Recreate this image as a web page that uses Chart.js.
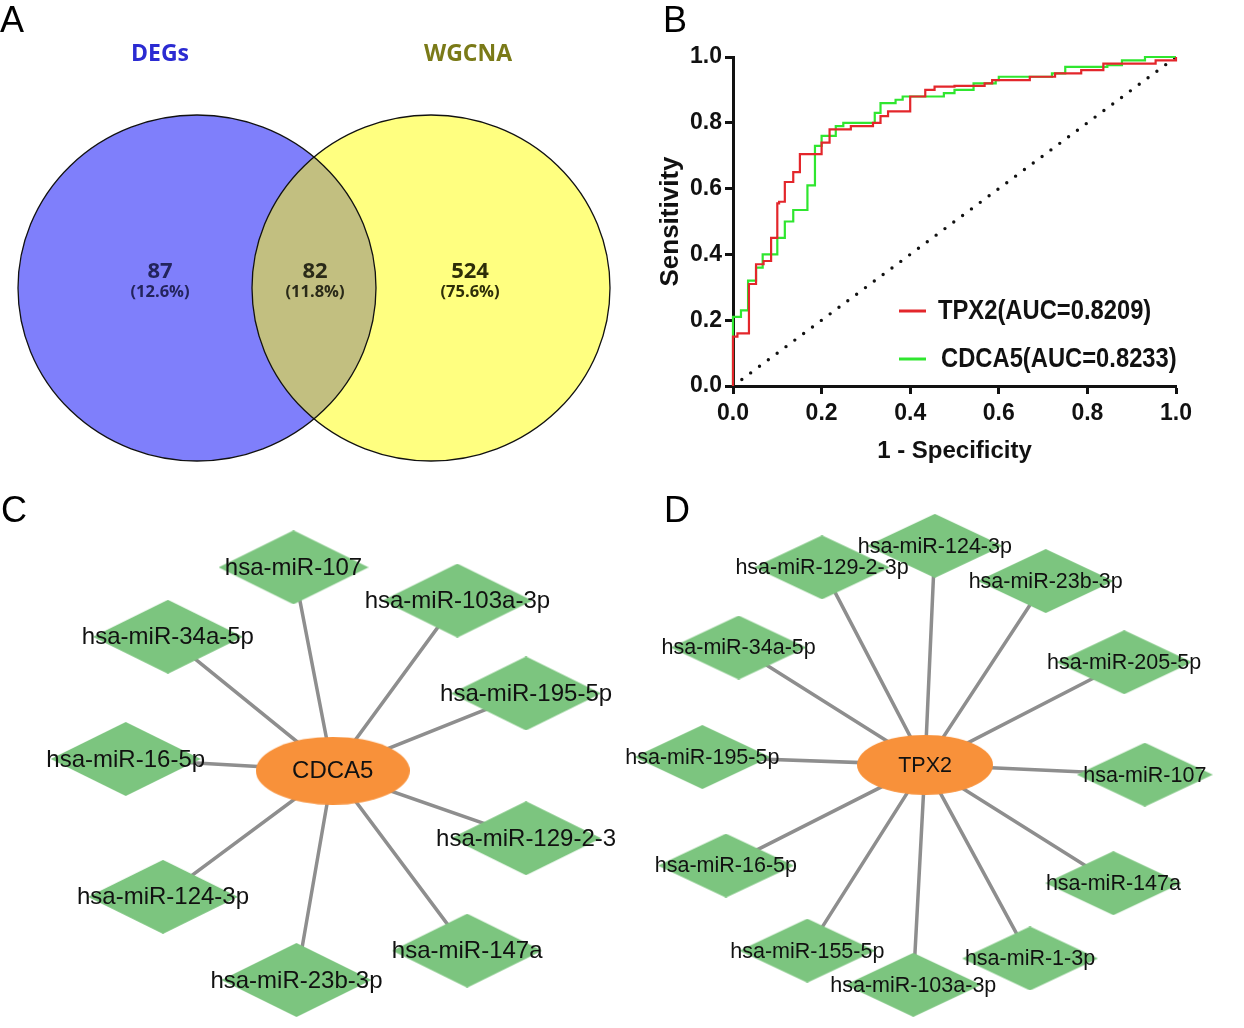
<!DOCTYPE html>
<html>
<head>
<meta charset="utf-8">
<script src="https://cdn.jsdelivr.net/npm/chart.js@4.4.1/dist/chart.umd.min.js"></script>
<style>
  body { margin: 0; background: #fff; }
  #fig { position: relative; width: 1244px; height: 1028px; overflow: hidden; }
  .box { position: absolute; }
  .tag { position: absolute; font: 36px "Liberation Sans", Arial, sans-serif; color: #000; line-height: 1; }
</style>
</head>
<body>
<div id="fig">
  <div class="box" style="left:0;top:0;width:640px;height:480px"><canvas id="vennChart"></canvas></div>
  <div class="box" style="left:640px;top:0;width:604px;height:480px"><canvas id="rocChart"></canvas></div>
  <div class="box" style="left:0;top:490px;width:640px;height:538px"><canvas id="cdca5Net"></canvas></div>
  <div class="box" style="left:610px;top:490px;width:634px;height:538px"><canvas id="tpx2Net"></canvas></div>
  <div class="tag" style="left:0px;top:2px">A</div>
  <div class="tag" style="left:663px;top:2px">B</div>
  <div class="tag" style="left:1px;top:492px">C</div>
  <div class="tag" style="left:664px;top:492px">D</div>
</div>
<script>
// ---- data ----
const vennSets = ['DEGs', 'WGCNA'];
const vennCounts = [87, 82, 524];   // DEGs only, both, WGCNA only

const tpx2Fpr = [0, 0, 0.01, 0.036, 0.052, 0.069, 0.086, 0.10, 0.104, 0.117, 0.136, 0.151, 0.20, 0.218, 0.266, 0.316, 0.333, 0.35, 0.40, 0.40, 0.434, 0.455, 0.50, 0.568, 0.585, 0.67, 0.727, 0.786, 0.836, 0.954, 1];
const tpx2Tpr = [0, 0.15, 0.16, 0.31, 0.37, 0.38, 0.45, 0.555, 0.56, 0.62, 0.65, 0.705, 0.74, 0.78, 0.79, 0.80, 0.82, 0.835, 0.85, 0.88, 0.90, 0.91, 0.912, 0.92, 0.93, 0.94, 0.95, 0.96, 0.98, 0.99, 1];
const cdca5Fpr = [0, 0, 0.018, 0.034, 0.052, 0.067, 0.10, 0.117, 0.136, 0.168, 0.185, 0.20, 0.232, 0.249, 0.32, 0.333, 0.367, 0.383, 0.476, 0.50, 0.543, 0.593, 0.60, 0.72, 0.75, 0.845, 0.878, 0.93, 1];
const cdca5Tpr = [0, 0.21, 0.23, 0.32, 0.36, 0.40, 0.45, 0.50, 0.535, 0.61, 0.73, 0.76, 0.79, 0.80, 0.83, 0.86, 0.87, 0.88, 0.89, 0.90, 0.92, 0.93, 0.94, 0.95, 0.97, 0.975, 0.99, 1.0, 1];
const rocNames = ['TPX2', 'CDCA5'];
const rocAuc = [0.8209, 0.8233];
const rocTicks = [0, 0.2, 0.4, 0.6, 0.8, 1.0];

const cdca5Targets = ['hsa-miR-107', 'hsa-miR-103a-3p', 'hsa-miR-34a-5p', 'hsa-miR-195-5p', 'hsa-miR-16-5p',
  'hsa-miR-129-2-3', 'hsa-miR-124-3p', 'hsa-miR-147a', 'hsa-miR-23b-3p'];
const tpx2Targets = ['hsa-miR-124-3p', 'hsa-miR-129-2-3p', 'hsa-miR-23b-3p', 'hsa-miR-34a-5p', 'hsa-miR-205-5p',
  'hsa-miR-195-5p', 'hsa-miR-107', 'hsa-miR-16-5p', 'hsa-miR-147a', 'hsa-miR-155-5p', 'hsa-miR-1-3p', 'hsa-miR-103a-3p'];

// network layout (offsets of each target from the hub)
const cdca5Layout = [[-40, -208], [127, -174], [-168, -137], [197, -79], [-211, -12], [197, 69], [-173, 129], [137, 184], [-37, 214]];
const tpx2Layout = [[10, -224], [-105, -202], [123, -188], [-190, -120], [203, -105], [-227, -8], [224, 10], [-203, 103], [192, 121], [-120, 190], [107, 198], [-12, 225]];

const ARIAL = '"Liberation Sans", Arial, sans-serif';
const OPEN = '"Open Sans", "Noto Sans", sans-serif';

// ---- A: Venn ----
const vennLayout = { centers: [[197, 288], [431, 288]], rx: 179, ry: 173, labelX: [160, 315, 470], numY: 272, pctY: 292, titleX: [160, 468], titleY: 54 };
const vennFill = ['#7f7ffb', '#ffff80'], vennBoth = '#c2bf80';
const vennTitleColor = ['#2b2bd2', '#7a7a18'];
const vennTextColor = ['#23245c', '#2a2a18', '#2e2e08'];

const vennPlugin = {
  id: 'venn',
  beforeDatasetsDraw(chart) {
    const { ctx, scales: { x, y } } = chart;
    const els = chart.getDatasetMeta(0).data;
    const rx = x.getPixelForValue(vennLayout.rx) - x.getPixelForValue(0);
    const ry = Math.abs(y.getPixelForValue(vennLayout.ry) - y.getPixelForValue(0));
    const path = el => { ctx.beginPath(); ctx.ellipse(el.x, el.y, rx, ry, 0, 0, Math.PI * 2); };
    ctx.save();
    els.forEach((el, i) => { path(el); ctx.fillStyle = vennFill[i]; ctx.fill(); });
    ctx.save();
    path(els[0]); ctx.clip();
    path(els[1]); ctx.fillStyle = vennBoth; ctx.fill();
    ctx.restore();
    ctx.strokeStyle = '#111'; ctx.lineWidth = 1.3;
    els.forEach(el => { path(el); ctx.stroke(); });
    ctx.restore();
  },
  afterDatasetsDraw(chart) {
    const { ctx, scales: { x, y } } = chart;
    const total = vennCounts.reduce((a, b) => a + b, 0);
    ctx.save();
    ctx.textAlign = 'center'; ctx.textBaseline = 'middle';
    ctx.font = 'bold 23px ' + OPEN;
    vennSets.forEach((s, i) => {
      ctx.fillStyle = vennTitleColor[i];
      ctx.fillText(s, x.getPixelForValue(vennLayout.titleX[i]), y.getPixelForValue(vennLayout.titleY));
    });
    vennCounts.forEach((c, i) => {
      const px = x.getPixelForValue(vennLayout.labelX[i]);
      ctx.fillStyle = vennTextColor[i];
      ctx.font = 'bold 22px ' + OPEN;
      ctx.fillText(String(c), px, y.getPixelForValue(vennLayout.numY));
      ctx.font = 'bold 16.5px ' + OPEN;
      ctx.fillText('(' + (c / total * 100).toFixed(1) + '%)', px, y.getPixelForValue(vennLayout.pctY));
    });
    ctx.restore();
  }
};

new Chart(document.getElementById('vennChart'), {
  type: 'scatter',
  data: { datasets: [{ data: vennLayout.centers.map(c => ({ x: c[0], y: c[1] })), pointRadius: 0 }] },
  options: {
    responsive: true, maintainAspectRatio: false, animation: false,
    layout: { padding: 0 },
    plugins: { legend: { display: false }, tooltip: { enabled: false } },
    scales: {
      x: { display: false, min: 0, max: 640 },
      y: { display: false, min: 0, max: 480, reverse: true }
    }
  },
  plugins: [vennPlugin]
});

// ---- B: ROC ----
const rocColors = ['#e3262b', '#2fe62f'];
const toPoints = (xs, ys) => xs.map((v, i) => ({ x: v, y: ys[i] }));

// legend inside the plot, text squeezed a little to look like the narrow face of the original
const rocLegend = {
  id: 'rocLegend',
  afterDatasetsDraw(chart) {
    const { ctx, chartArea: a } = chart;
    ctx.save();
    ctx.textBaseline = 'middle';
    ctx.fillStyle = '#111';
    rocNames.forEach((n, i) => {
      const yy = a.top + 254 + i * 48;
      ctx.strokeStyle = rocColors[i]; ctx.lineWidth = 3;
      ctx.beginPath(); ctx.moveTo(a.left + 166, yy); ctx.lineTo(a.left + 193, yy); ctx.stroke();
      ctx.save();
      ctx.translate(a.left + 205 + i * 3, yy);
      ctx.scale(0.88, 1);
      ctx.font = 'bold 27px ' + ARIAL;
      ctx.fillText(n + '(AUC=' + rocAuc[i].toFixed(4) + ')', 0, 1);
      ctx.restore();
    });
    ctx.restore();
  }
};

const axisCommon = {
  min: 0, max: 1,
  afterBuildTicks: s => { s.ticks = rocTicks.map(v => ({ value: v })); },
  grid: { display: true, drawOnChartArea: false, drawTicks: true, tickLength: 8, tickWidth: 3, tickColor: '#111' },
  border: { display: true, color: '#111', width: 3 },
  ticks: { color: '#111', font: { family: ARIAL, size: 23, weight: 'bold' }, callback: v => v.toFixed(1) }
};

new Chart(document.getElementById('rocChart'), {
  type: 'scatter',
  data: {
    datasets: [
      { label: rocNames[0], data: toPoints(tpx2Fpr, tpx2Tpr), showLine: true, stepped: true, borderColor: rocColors[0], borderWidth: 2.2, pointRadius: 0, order: 1, clip: false },
      { label: rocNames[1], data: toPoints(cdca5Fpr, cdca5Tpr), showLine: true, stepped: true, borderColor: rocColors[1], borderWidth: 2.2, pointRadius: 0, order: 2, clip: false },
      { label: 'ref', data: [{ x: 0, y: 0 }, { x: 1, y: 1 }], showLine: true, borderColor: '#111', borderWidth: 3.4, borderDash: [0, 11], borderCapStyle: 'round', pointRadius: 0, order: 3 }
    ]
  },
  options: {
    responsive: true, maintainAspectRatio: false, animation: false,
    layout: { padding: { top: 57, right: 68, left: 0, bottom: 0 } },
    plugins: { legend: { display: false }, tooltip: { enabled: false } },
    scales: {
      x: Object.assign({}, axisCommon, {
        afterFit: s => { s.height = 94; },
        ticks: Object.assign({}, axisCommon.ticks, { padding: 6 }),
        title: { display: true, text: '1 - Specificity', color: '#111', font: { family: ARIAL, size: 24, weight: 'bold' }, padding: { top: 0, bottom: 14 } }
      }),
      y: Object.assign({}, axisCommon, {
        afterFit: s => { s.width = 93; },
        ticks: Object.assign({}, axisCommon.ticks, { padding: 3 }),
        title: { display: true, text: 'Sensitivity', color: '#111', font: { family: ARIAL, size: 26, weight: 'bold' }, padding: { top: 15, bottom: 0 } }
      })
    }
  },
  plugins: [rocLegend]
});

// ---- C, D: networks ----
function diamondStyle(w, h, color) {
  const c = document.createElement('canvas');
  c.width = w; c.height = h;
  const g = c.getContext('2d');
  g.fillStyle = color;
  g.beginPath(); g.moveTo(w / 2, 0); g.lineTo(w, h / 2); g.lineTo(w / 2, h); g.lineTo(0, h / 2); g.closePath(); g.fill();
  return c;
}
function ellipseStyle(w, h, color) {
  const c = document.createElement('canvas');
  c.width = w; c.height = h;
  const g = c.getContext('2d');
  g.fillStyle = color;
  g.beginPath(); g.ellipse(w / 2, h / 2, w / 2, h / 2, 0, 0, Math.PI * 2); g.fill();
  return c;
}

const nodeLabels = {
  id: 'nodeLabels',
  afterDatasetsDraw(chart) {
    const ctx = chart.ctx;
    ctx.save();
    ctx.textAlign = 'center'; ctx.textBaseline = 'middle'; ctx.fillStyle = '#111';
    chart.data.datasets.forEach((ds, i) => {
      if (!ds.names) return;
      ctx.font = ds.labelFont;
      chart.getDatasetMeta(i).data.forEach((el, j) => ctx.fillText(ds.names[j], el.x, el.y + 1));
    });
    ctx.restore();
  }
};

function drawNetwork(id, hub, targets, layout, o) {
  const hubPt = { x: 0, y: 0 };
  const nodes = layout.map(p => ({ x: p[0], y: p[1] }));
  const edges = [];
  nodes.forEach(n => { edges.push(hubPt, n); });
  new Chart(document.getElementById(id), {
    type: 'scatter',
    data: {
      datasets: [
        { data: edges, showLine: true, borderColor: '#8e8e8e', borderWidth: 3.5, pointRadius: 0, order: 3, clip: false },
        { data: nodes, names: targets, labelFont: o.font + 'px ' + ARIAL, pointStyle: diamondStyle(o.dw, o.dh, '#7cc57f'), pointRadius: 5, order: 2, clip: false },
        { data: [hubPt], names: [hub], labelFont: o.font + 'px ' + ARIAL, pointStyle: ellipseStyle(o.ew, o.eh, '#f8913a'), pointRadius: 5, order: 1, clip: false }
      ]
    },
    options: {
      responsive: true, maintainAspectRatio: false, animation: false,
      layout: { padding: 0 },
      plugins: { legend: { display: false }, tooltip: { enabled: false } },
      scales: {
        x: { display: false, min: o.x[0], max: o.x[1] },
        y: { display: false, min: o.y[0], max: o.y[1], reverse: true }
      }
    },
    plugins: [nodeLabels]
  });
}

drawNetwork('cdca5Net', 'CDCA5', cdca5Targets, cdca5Layout, { x: [-333, 307], y: [-281, 257], dw: 150, dh: 74, ew: 154, eh: 68, font: 24 });
drawNetwork('tpx2Net', 'TPX2', tpx2Targets, tpx2Layout, { x: [-315, 319], y: [-275, 263], dw: 136, dh: 64, ew: 136, eh: 60, font: 21.5 });
</script>
</body>
</html>
